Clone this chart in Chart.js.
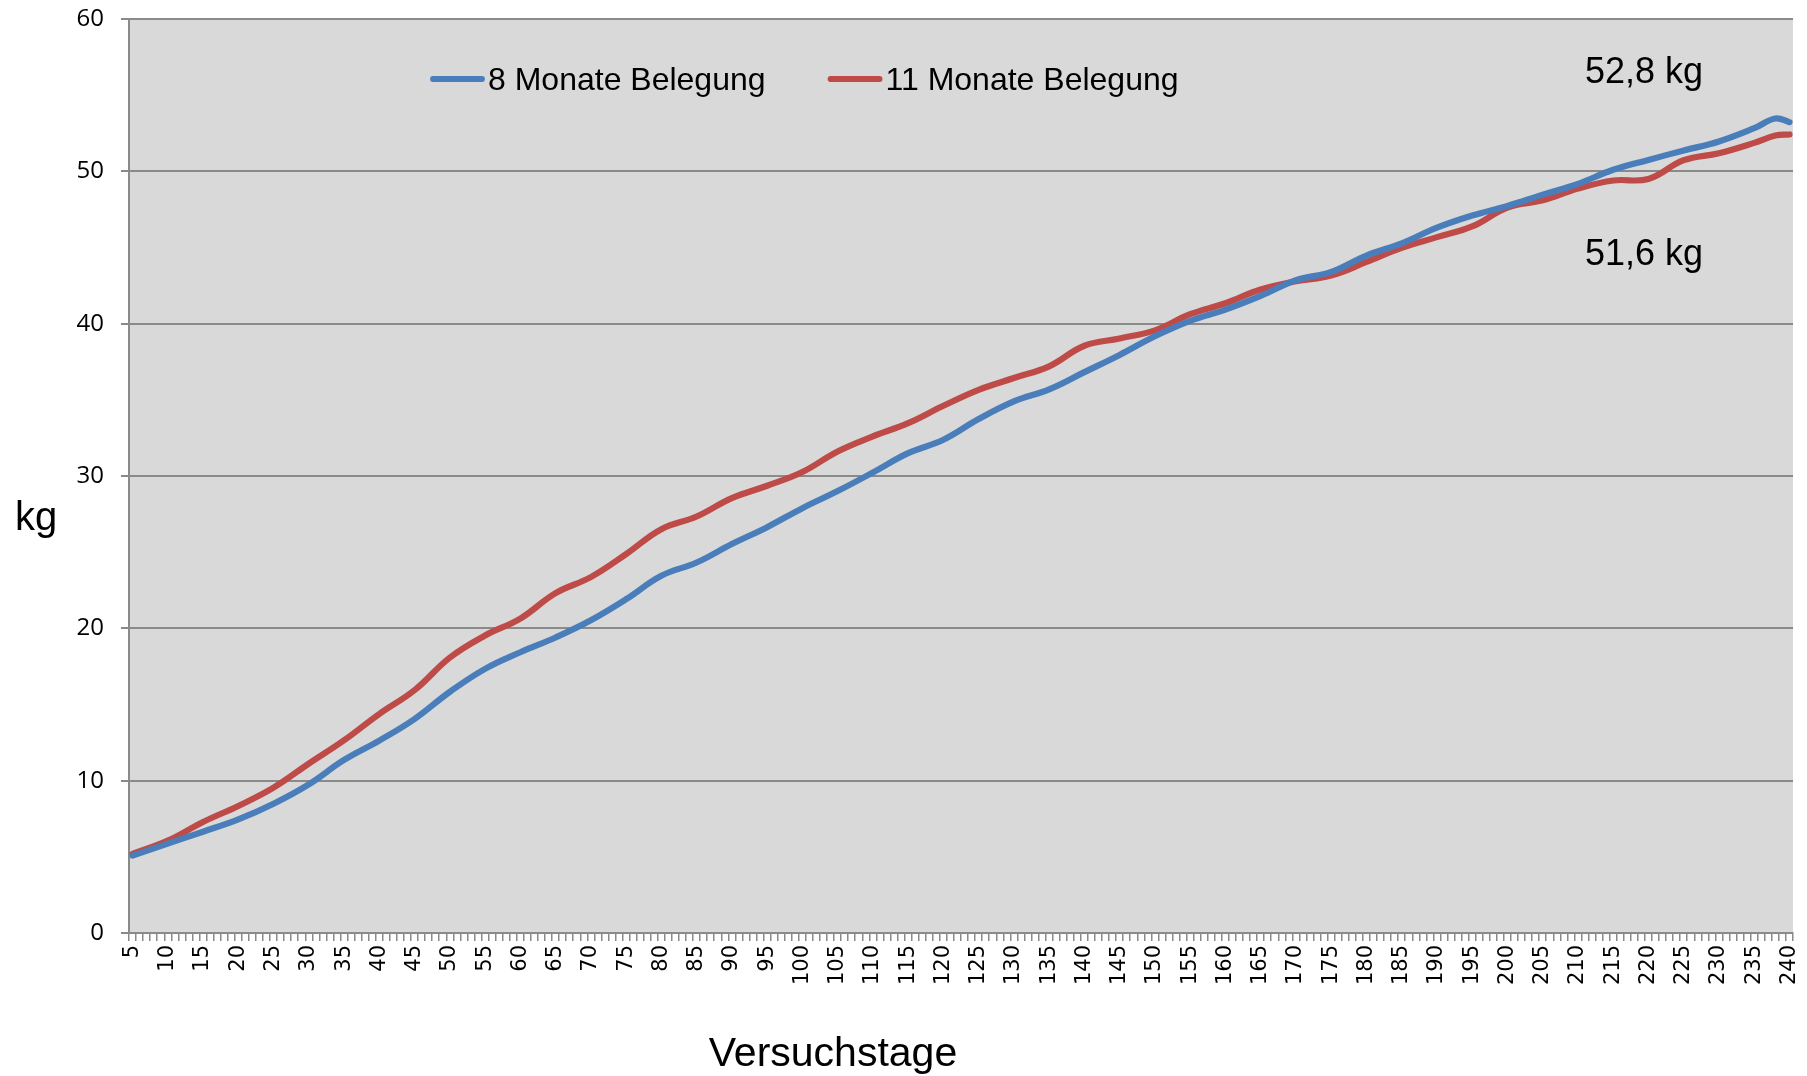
<!DOCTYPE html>
<html>
<head>
<meta charset="utf-8">
<title>Gewichtsentwicklung</title>
<script src="https://cdn.jsdelivr.net/npm/chart.js@4.4.1/dist/chart.umd.min.js"></script>
<style>
  html, body { margin: 0; padding: 0; background: #ffffff; }
  #wrap { width: 1807px; height: 1076px; position: relative; }
</style>
</head>
<body>
<div id="wrap"><canvas id="c" width="1807" height="1076"></canvas></div>
<script>
// Category axis: one slot per trial day
const firstDay = 5;
const lastDay = 240;
const days = [];
for (let d = firstDay; d <= lastDay; d++) days.push(d);

// Days on which the mean weight is plotted
const sampleDays = [5, 10, 15, 20, 25, 30, 35, 40, 45, 50, 55, 60, 65, 70, 75, 80, 85, 90, 95, 100,
  105, 110, 115, 120, 125, 130, 135, 140, 145, 150, 155, 160, 165, 170, 175, 180, 185, 190, 195, 200,
  205, 210, 215, 220, 225, 230, 235, 238, 240];

// Mean body weight (kg), 8 months occupancy
const weights8 = [5.08, 5.87, 6.65, 7.46, 8.49, 9.76, 11.36, 12.63, 14.05, 15.83, 17.34, 18.43, 19.40, 20.53,
  21.91, 23.45, 24.32, 25.53, 26.64, 27.89, 29.01, 30.23, 31.50, 32.38, 33.74, 34.90, 35.69, 36.82, 37.95,
  39.17, 40.18, 40.92, 41.82, 42.85, 43.40, 44.47, 45.27, 46.30, 47.10, 47.73, 48.47, 49.18, 50.10, 50.75,
  51.37, 51.96, 52.83, 53.47, 53.23];

// Mean body weight (kg), 11 months occupancy
const weights11 = [5.19, 6.06, 7.29, 8.34, 9.54, 11.12, 12.65, 14.38, 15.94, 18.08, 19.53, 20.64, 22.31, 23.36,
  24.87, 26.51, 27.34, 28.55, 29.36, 30.26, 31.61, 32.60, 33.47, 34.61, 35.66, 36.43, 37.20, 38.55, 39.03,
  39.56, 40.62, 41.34, 42.24, 42.78, 43.16, 44.05, 44.98, 45.68, 46.38, 47.62, 48.10, 48.87, 49.40, 49.50,
  50.73, 51.19, 51.87, 52.35, 52.42];

const seriesNames = ['8 Monate Belegung', '11 Monate Belegung'];
const seriesColors = ['#4a7ebb', '#be4b48'];
const finalWeightLabels = ['52,8 kg', '51,6 kg'];
const yTitle = 'kg';
const xTitle = 'Versuchstage';

const yMin = 0, yMax = 60, yStep = 10;

const AXIS_GREY = '#8a8a8a';
const ARIAL = "'Liberation Sans', Arial, sans-serif";

function toPoints(values) {
  return sampleDays.map((d, i) => ({ x: d, y: values[i] }));
}

// Grey plotting area
const plotBackground = {
  id: 'plotBackground',
  beforeDraw(chart) {
    const { ctx, chartArea: a } = chart;
    ctx.save();
    ctx.fillStyle = '#d9d9d9';
    ctx.fillRect(a.left, a.top, a.right - a.left, a.bottom - a.top);
    ctx.restore();
  }
};

// Legend inside the plot, axis titles and final weight notes
const chartTexts = {
  id: 'chartTexts',
  afterDraw(chart) {
    const { ctx } = chart;
    ctx.save();

    // legend
    ctx.font = '32px ' + ARIAL;
    ctx.textBaseline = 'alphabetic';
    ctx.textAlign = 'left';
    let x = 431;
    const lineY = 79;
    const baseY = 90;
    chart.data.datasets.forEach((ds) => {
      ctx.strokeStyle = ds.borderColor;
      ctx.lineWidth = 5.8;
      ctx.lineCap = 'round';
      ctx.beginPath();
      ctx.moveTo(x + 2, lineY);
      ctx.lineTo(x + 51, lineY);
      ctx.stroke();
      ctx.fillStyle = '#000';
      ctx.fillText(ds.label, x + 57, baseY);
      x += 57 + ctx.measureText(ds.label).width + 63;
    });

    // final weights
    ctx.font = '36px ' + ARIAL;
    ctx.fillText(finalWeightLabels[0], 1585, 83);
    ctx.fillText(finalWeightLabels[1], 1585, 265);

    // y title (horizontal)
    ctx.font = '40px ' + ARIAL;
    ctx.fillText(yTitle, 15, 530);

    // x title
    ctx.font = '41px ' + ARIAL;
    ctx.textAlign = 'center';
    ctx.fillText(xTitle, 833, 1066);

    ctx.restore();
  }
};

new Chart(document.getElementById('c'), {
  type: 'line',
  data: {
    labels: days,
    datasets: [
      {
        label: seriesNames[0],
        data: toPoints(weights8),
        borderColor: seriesColors[0],
        backgroundColor: seriesColors[0],
        borderWidth: 6.2,
        pointRadius: 0,
        tension: 0.4,
        borderCapStyle: 'round',
        borderJoinStyle: 'round',
        fill: false
      },
      {
        label: seriesNames[1],
        data: toPoints(weights11),
        borderColor: seriesColors[1],
        backgroundColor: seriesColors[1],
        borderWidth: 6.2,
        pointRadius: 0,
        tension: 0.4,
        borderCapStyle: 'round',
        borderJoinStyle: 'round',
        fill: false
      }
    ]
  },
  options: {
    responsive: false,
    animation: false,
    devicePixelRatio: 1,
    layout: { padding: { top: 19, right: 14, bottom: 0, left: 0 } },
    plugins: {
      legend: { display: false },
      tooltip: { enabled: false },
      title: { display: false }
    },
    scales: {
      x: {
        type: 'category',
        offset: true,
        grid: {
          offset: true,
          drawOnChartArea: false,
          drawTicks: true,
          tickLength: 8,
          color: AXIS_GREY,
          lineWidth: 1.5
        },
        border: { display: true, color: AXIS_GREY, width: 2 },
        ticks: {
          autoSkip: false,
          minRotation: 90,
          maxRotation: 90,
          padding: 4,
          color: '#000',
          font: { family: "'DejaVu Sans', sans-serif", size: 21 },
          callback: function (value) {
            const d = this.getLabelForValue(value);
            return d % 5 === 0 ? String(d) : '';
          }
        },
        afterFit: (scale) => {
          scale.height = 143;
          scale.paddingLeft = 0;
          scale.paddingRight = 0;
        }
      },
      y: {
        min: yMin,
        max: yMax,
        ticks: {
          stepSize: yStep,
          padding: 17,
          color: '#000',
          font: { family: "'Open Sans', sans-serif", size: 24 }
        },
        grid: {
          color: AXIS_GREY,
          lineWidth: 2,
          drawTicks: true,
          tickLength: 8
        },
        border: { display: true, color: AXIS_GREY, width: 2 },
        afterFit: (scale) => {
          scale.width = 129;
          scale.paddingTop = 0;
          scale.paddingBottom = 0;
        }
      }
    }
  },
  plugins: [plotBackground, chartTexts]
});
</script>
</body>
</html>
